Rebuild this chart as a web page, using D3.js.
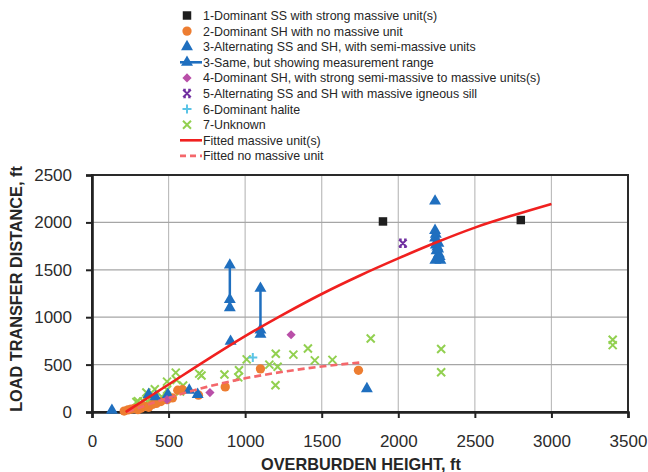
<!DOCTYPE html>
<html>
<head>
<meta charset="utf-8">
<script src="https://cdn.jsdelivr.net/npm/d3@7"></script>
<style>
  body { margin: 0; background: #fff; }
  svg { display: block; font-family: "Liberation Sans", Arial, sans-serif; }
</style>
</head>
<body>
<svg width="648" height="472"></svg>
<script>
// series values, [overburden height ft, load transfer distance ft]
var type1 = [[1900, 2010], [2800, 2025]];
var type2 = [[210, 10], [235, 22], [255, 30], [275, 35], [300, 25], [320, 40], [345, 60], [370, 50],
  [395, 80], [420, 90], [450, 110], [490, 130], [525, 148], [560, 230], [590, 235], [695, 178],
  [870, 265], [1100, 455], [1740, 440]];
var type3 = [[130, 18], [370, 185], [415, 160], [495, 185], [635, 230], [690, 185], [905, 745],
  [1795, 245], [2240, 2225],
  [2240, 1915], [2245, 1875], [2240, 1835], [2250, 1795], [2245, 1760], [2255, 1740], [2262, 1780],
  [2250, 1700], [2265, 1665], [2255, 1625], [2242, 1600], [2275, 1600], [2270, 1640], [2260, 1720]];
var rangeX = [900, 1100];
var rangeLow = [1100, 830];
var rangeHigh = [1550, 1305];
var rangePts = [[900, 1550], [900, 1185], [900, 1100], [1100, 1305], [1100, 865], [1100, 820]];
var type4 = [[490, 130], [770, 205], [1300, 815]];
var type5 = [[2030, 1780]];
var type6 = [[1050, 575]];
var type7 = [[290, 105], [300, 115], [335, 110], [355, 205], [360, 112], [390, 150], [410, 240],
  [455, 160], [490, 235], [490, 320], [547, 415], [552, 338], [575, 217], [595, 280], [700, 405],
  [715, 385], [865, 395], [955, 365], [960, 440], [1010, 555], [1158, 500], [1200, 615], [1212, 478],
  [1198, 282], [1315, 605], [1410, 670], [1455, 545], [1570, 550], [1820, 775], [2280, 665],
  [2280, 420], [3400, 762], [3400, 705]];
var fitMassive = [[220, 0], [500, 290], [750, 550], [1000, 800], [1250, 1030], [1500, 1245],
  [1750, 1440], [2000, 1620], [2250, 1790], [2500, 1945], [2750, 2075], [3000, 2195]];
var fitNoMassive = [[230, 0], [500, 150], [750, 265], [1000, 355], [1250, 425], [1500, 480], [1750, 522]];
var xTicks = [0, 500, 1000, 1500, 2000, 2500, 3000, 3500];
var yTicks = [0, 500, 1000, 1500, 2000, 2500];
var legendLabels = [
  "1-Dominant SS with strong massive unit(s)",
  "2-Dominant SH with no massive unit",
  "3-Alternating SS and SH, with semi-massive units",
  "3-Same, but showing measurement range",
  "4-Dominant SH, with strong semi-massive  to massive units(s)",
  "5-Alternating SS and SH with massive igneous sill",
  "6-Dominant halite",
  "7-Unknown",
  "Fitted massive unit(s)",
  "Fitted no massive unit"
];

var svg = d3.select("svg");
var x = d3.scaleLinear().domain([0, 3500]).range([92, 628]);
var y = d3.scaleLinear().domain([0, 2500]).range([412, 175]);

var c = {
  black: "#1e1e1e", orange: "#ed7d31", blue: "#1f6fbf", purple: "#b94fa8",
  violet: "#7030a0", cyan: "#5bc4e6", green: "#92d050", red: "#f0201f", pink: "#f4676b"
};

// grid
svg.append("g").selectAll("line").data(xTicks.slice(1, -1)).enter().append("line")
  .attr("x1", d => x(d)).attr("x2", d => x(d)).attr("y1", y(0)).attr("y2", y(2500))
  .attr("stroke", "#bdbdbd").attr("stroke-width", 1.2);
svg.append("g").selectAll("line").data(yTicks.slice(1, -1)).enter().append("line")
  .attr("y1", d => y(d)).attr("y2", d => y(d)).attr("x1", x(0)).attr("x2", x(3500))
  .attr("stroke", "#a6a6a6").attr("stroke-width", 1.2);

svg.append("rect").attr("x", x(0)).attr("y", y(2500))
  .attr("width", x(3500) - x(0)).attr("height", y(0) - y(2500))
  .attr("fill", "none").attr("stroke", "#2a2a2a").attr("stroke-width", 2);

// axes
var xAxis = svg.append("g").attr("transform", "translate(0," + y(0) + ")")
  .call(d3.axisBottom(x).tickValues(xTicks).tickFormat(d3.format("d")).tickSize(6).tickPadding(17));
var yAxis = svg.append("g").attr("transform", "translate(" + x(0) + ",0)")
  .call(d3.axisLeft(y).tickValues(yTicks).tickFormat(d3.format("d")).tickSize(6).tickPadding(14));
[xAxis, yAxis].forEach(function (g) {
  g.select(".domain").attr("stroke", "#222").attr("stroke-width", 2.6);
  g.selectAll(".tick line").attr("stroke", "#222").attr("stroke-width", 2);
  g.selectAll(".tick text").attr("font-size", 17).attr("fill", "#2b2b2b")
    .attr("font-family", "Liberation Sans, Arial, sans-serif");
});

svg.append("text").attr("x", 361).attr("y", 470).attr("text-anchor", "middle")
  .attr("font-size", 16.3).attr("font-weight", "bold").attr("fill", "#262626")
  .text("OVERBURDEN HEIGHT, ft");
svg.append("text").attr("transform", "translate(22,289) rotate(-90)").attr("text-anchor", "middle")
  .attr("font-size", 16.3).attr("font-weight", "bold").attr("fill", "#262626")
  .text("LOAD TRANSFER DISTANCE, ft");

// marker helpers
var sym = {
  square: d3.symbol().type(d3.symbolSquare).size(72)(),
  circle: d3.symbol().type(d3.symbolCircle).size(68)(),
  triangle: d3.symbol().type(d3.symbolTriangle).size(62)(),
  diamond: "M0,-4.6L4.6,0L0,4.6L-4.6,0Z",
  cross: "M-4.5,0L4.5,0M0,-4.5L0,4.5",
  xmark: "M-4,-4L4,4M-4,4L4,-4",
  star: "M-3.8,-3.8L3.8,3.8M-3.8,3.8L3.8,-3.8M-3.8,-3.8L-1.2,-3.8M1.2,-3.8L3.8,-3.8M-3.8,3.8L-1.2,3.8M1.2,3.8L3.8,3.8"
};
function drawMarker(sel, shape, color) {
  var stroked = shape === "cross" || shape === "xmark" || shape === "star";
  sel.attr("d", sym[shape])
    .attr("fill", stroked ? "none" : color)
    .attr("stroke", stroked ? color : "none")
    .attr("stroke-width", stroked ? 2 : 0);
}
function scatter(data, shape, color) {
  svg.append("g").selectAll("path").data(data).enter().append("path")
    .attr("transform", d => "translate(" + x(d[0]) + "," + y(d[1]) + ")")
    .call(drawMarker, shape, color);
}

// measurement ranges
svg.append("g").selectAll("line").data(rangeX).enter().append("line")
  .attr("x1", d => x(d)).attr("x2", d => x(d))
  .attr("y1", (d, i) => y(rangeLow[i])).attr("y2", (d, i) => y(rangeHigh[i]))
  .attr("stroke", c.blue).attr("stroke-width", 2.5);

scatter(type7, "xmark", c.green);
scatter(type2, "circle", c.orange);
scatter(type3, "triangle", c.blue);
scatter(rangePts, "triangle", c.blue);
scatter(type4, "diamond", c.purple);
scatter(type5, "star", c.violet);
scatter(type6, "cross", c.cyan);
scatter(type1, "square", c.black);

// fitted curves
var line = d3.line().x(d => x(d[0])).y(d => y(d[1])).curve(d3.curveMonotoneX);
svg.append("path").datum(fitNoMassive).attr("d", line).attr("fill", "none")
  .attr("stroke", c.pink).attr("stroke-width", 2.6).attr("stroke-dasharray", "7,4");
svg.append("path").datum(fitMassive).attr("d", line).attr("fill", "none")
  .attr("stroke", c.red).attr("stroke-width", 2.6);

// legend
var legendShapes = [
  ["square", c.black], ["circle", c.orange], ["triangle", c.blue], ["rangeLine", c.blue],
  ["diamond", c.purple], ["star", c.violet], ["cross", c.cyan], ["xmark", c.green],
  ["solid", c.red], ["dashed", c.pink]
];
var lg = svg.append("g").selectAll("g").data(legendLabels).enter().append("g")
  .attr("transform", (d, i) => "translate(0," + (15.5 + i * 15.6) + ")");
lg.append("text").attr("x", 203).attr("y", 4.5).attr("font-size", 12.4).attr("fill", "#262626")
  .text(d => d);
lg.each(function (d, i) {
  var g = d3.select(this), s = legendShapes[i];
  if (s[0] === "rangeLine" || s[0] === "solid" || s[0] === "dashed") {
    g.append("line").attr("x1", 180).attr("x2", 202).attr("y1", 0).attr("y2", 0)
      .attr("stroke", s[1]).attr("stroke-width", 2.6)
      .attr("stroke-dasharray", s[0] === "dashed" ? "6,4" : null);
    if (s[0] === "rangeLine") {
      g.append("path").attr("transform", "translate(187,0)").call(drawMarker, "triangle", s[1]);
    }
  } else {
    g.append("path").attr("transform", "translate(187,0)").call(drawMarker, s[0], s[1]);
  }
});
</script>
</body>
</html>
